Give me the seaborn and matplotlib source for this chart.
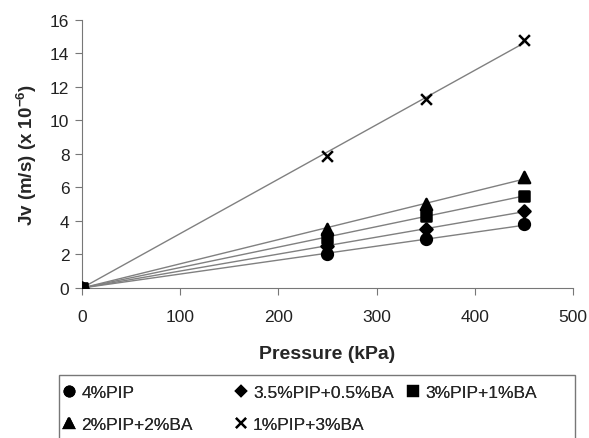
import numpy as np
import pandas as pd
import matplotlib
matplotlib.use('Agg')
import matplotlib.pyplot as plt
import seaborn as sns
from matplotlib.lines import Line2D
from matplotlib.patches import Rectangle

pressure = [0, 250, 350, 450]
series_names = ['4%PIP', '3.5%PIP+0.5%BA', '3%PIP+1%BA', '2%PIP+2%BA', '1%PIP+3%BA']
jv_4pip = [0, 2.0, 2.9, 3.8]
jv_35pip = [0, 2.5, 3.5, 4.6]
jv_3pip = [0, 3.0, 4.3, 5.5]
jv_2pip = [0, 3.5, 5.0, 6.6]
jv_1pip = [0, 7.9, 11.3, 14.8]
marker_list = ['o', 'D', 's', '^', 'x']

values = [jv_4pip, jv_35pip, jv_3pip, jv_2pip, jv_1pip]
rows = []
for name, vals in zip(series_names, values):
    for p, v in zip(pressure, vals):
        rows.append({'Pressure': p, 'Jv': v, 'Membrane': name})
df = pd.DataFrame(rows)

sns.set_style('ticks')
plt.rcParams['font.family'] = ['Liberation Sans', 'DejaVu Sans']
plt.rcParams['mathtext.fontset'] = 'custom'
plt.rcParams['mathtext.rm'] = 'Liberation Sans'
plt.rcParams['mathtext.bf'] = 'Liberation Sans:bold'

fig = plt.figure(figsize=(5.89, 4.39), dpi=100)
ax = fig.add_axes([0.1392, 0.3417, 0.8336, 0.6105])

# trend lines (least squares through origin)
x_line = np.array([0, 450])
for name, vals in zip(series_names, values):
    p = np.array(pressure, dtype=float)
    v = np.array(vals, dtype=float)
    slope = (p * v).sum() / (p * p).sum()
    sns.lineplot(x=x_line, y=slope * x_line, ax=ax, color='#808080', linewidth=1.0)

draw_order = [4, 0, 1, 3, 2]
for i in draw_order:
    name, m = series_names[i], marker_list[i]
    sub = df[df['Membrane'] == name]
    size = {'o': 60, 'D': 38, 's': 55, '^': 65, 'x': 60}[m]
    sns.scatterplot(data=sub, x='Pressure', y='Jv', marker=m, color='black',
                    s=size, linewidth=1.8, edgecolor='black', ax=ax,
                    legend=False, zorder=3)

ax.set_xlim(0, 500)
ax.set_ylim(0, 16)
ax.set_xticks(range(0, 501, 100))
ax.set_yticks(range(0, 17, 2))
ax.tick_params(labelsize=12.5, color='#777777', length=5, colors='#222222')
ax.tick_params(axis='x', pad=10)
ax.tick_params(axis='y', pad=4)
for s in ['left', 'bottom']:
    ax.spines[s].set_color('#777777')
sns.despine(ax=ax)
ax.set_xlabel('Pressure (kPa)', fontsize=14, fontweight='bold', labelpad=15)
ax.set_ylabel(r'Jv (m/s) (x 10$^{\mathbf{-6}}$)', fontsize=13.5, fontweight='bold',
              labelpad=8)

handles = []
for name, m in zip(series_names, marker_list):
    ms = {'o': 7, 'D': 5.5, 's': 6.5, '^': 7.5, 'x': 7}[m]
    handles.append(Line2D([], [], linestyle='none', marker=m, color='black',
                          markersize=ms, markeredgewidth=1.6, label=name))

# legend: three columns of equal width inside one frame
legend_cols = [[0, 3], [1, 4], [2]]
col_x = [0.106, 0.397, 0.689]
for cols, x0 in zip(legend_cols, col_x):
    lg = fig.legend([handles[i] for i in cols], [series_names[i] for i in cols],
                    loc='upper left', bbox_to_anchor=(x0, 0.122),
                    fontsize=12.5, frameon=False, handletextpad=0.3,
                    handlelength=0.8, borderaxespad=0, borderpad=0,
                    labelspacing=1.0)
    fig.add_artist(lg)

fig.patches.append(Rectangle((0.100, -0.05), 0.877, 0.1935, transform=fig.transFigure,
                             fill=False, edgecolor='#777777', linewidth=1.0))

fig.savefig('out.png', dpi=100)
